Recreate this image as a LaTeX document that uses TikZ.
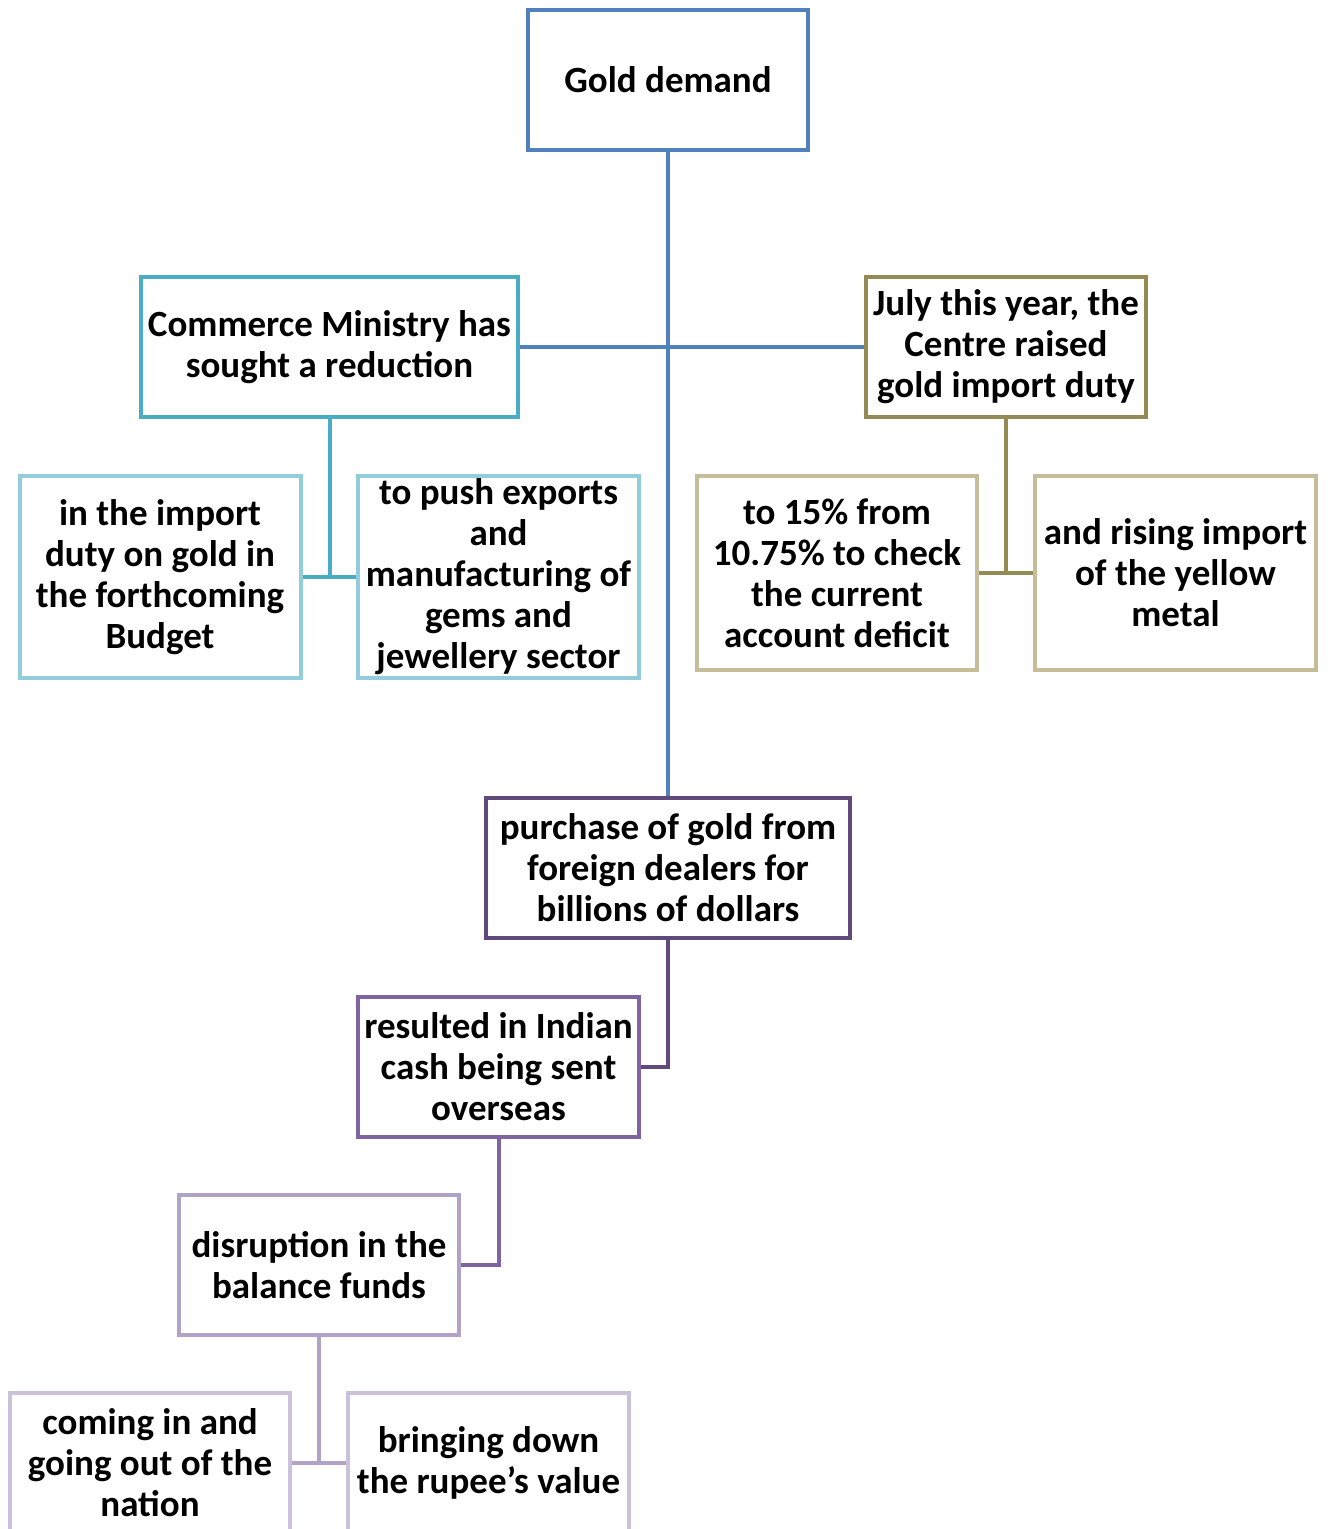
\documentclass[tikz,border=0pt]{standalone}
\usepackage{fontspec}
\setmainfont{Carlito}
\definecolor{cBlue}{HTML}{4F81BD}
\definecolor{cTeal}{HTML}{4BACC6}
\definecolor{cLTeal}{HTML}{92CDDC}
\definecolor{cOlive}{HTML}{948A54}
\definecolor{cTan}{HTML}{C4BD97}
\definecolor{cDPurple}{HTML}{604A7B}
\definecolor{cPurple}{HTML}{8064A2}
\definecolor{cLav}{HTML}{B3A2C7}
\definecolor{cLLav}{HTML}{CCC1DA}
\tikzset{
  box/.style={draw, rectangle, line width=4pt, fill=white, inner sep=0pt, align=center,
    font=\fontsize{37}{41}\selectfont\bfseries, text=black},
  conn/.style={line width=4pt}
}
\begin{document}
\begin{tikzpicture}[x=1pt,y=-1pt]
\clip (0,0) rectangle (1329,1529);
\fill[white] (0,0) rectangle (1329,1529);
\node[box, draw=cBlue, minimum width=280pt, minimum height=140pt] (gold) at (668,80) {Gold demand};
\node[box, draw=cTeal, minimum width=377pt, minimum height=140pt] (comm) at (329.5,347) {Commerce Ministry has\\sought a reduction};
\node[box, draw=cOlive, minimum width=280pt, minimum height=140pt] (july) at (1006,347) {July this year, the\\Centre raised\\gold import duty};
\node[box, draw=cLTeal, minimum width=281pt, minimum height=202pt] (import) at (160,577) {in the import\\duty on gold in\\the forthcoming\\Budget};
\node[box, draw=cLTeal, minimum width=281pt, minimum height=202pt] (push) at (498.5,577) {to push exports\\and\\manufacturing of\\gems and\\jewellery sector};
\node[box, draw=cTan, minimum width=280pt, minimum height=194pt] (fifteen) at (837,573) {to 15\% from\\10.75\% to check\\the current\\account deficit};
\node[box, draw=cTan, minimum width=281pt, minimum height=194pt] (rising) at (1175.5,573) {and rising import\\of the yellow\\metal};
\node[box, draw=cDPurple, minimum width=364pt, minimum height=140pt] (purch) at (668,868) {purchase of gold from\\foreign dealers for\\billions of dollars};
\node[box, draw=cPurple, minimum width=281pt, minimum height=140pt] (result) at (498.5,1067) {resulted in Indian\\cash being sent\\overseas};
\node[box, draw=cLav, minimum width=280pt, minimum height=140pt] (disr) at (319,1265) {disruption in the\\balance funds};
\node[box, draw=cLLav, minimum width=280pt, minimum height=140pt] (coming) at (150,1463) {coming in and\\going out of the\\nation};
\node[box, draw=cLLav, minimum width=281pt, minimum height=140pt] (bring) at (488.5,1463) {bringing down\\the rupee’s value};
\draw[conn, cBlue] (gold.south) -- (purch.north);
\draw[conn, cBlue] (comm.east) -- (july.west);
\draw[conn, cTeal] (comm.south) -- (comm.south |- import.east);
\draw[conn, cTeal] (import.east) -- (push.west);
\draw[conn, cOlive] (july.south) -- (july.south |- fifteen.east);
\draw[conn, cOlive] (fifteen.east) -- (rising.west);
\draw[conn, cDPurple, line join=miter] (purch.south) |- (result.east);
\draw[conn, cPurple, line join=miter] (result.south) |- (disr.east);
\draw[conn, cLav] (disr.south) -- (disr.south |- coming.east);
\draw[conn, cLav] (coming.east) -- (bring.west);
\end{tikzpicture}
\end{document}
